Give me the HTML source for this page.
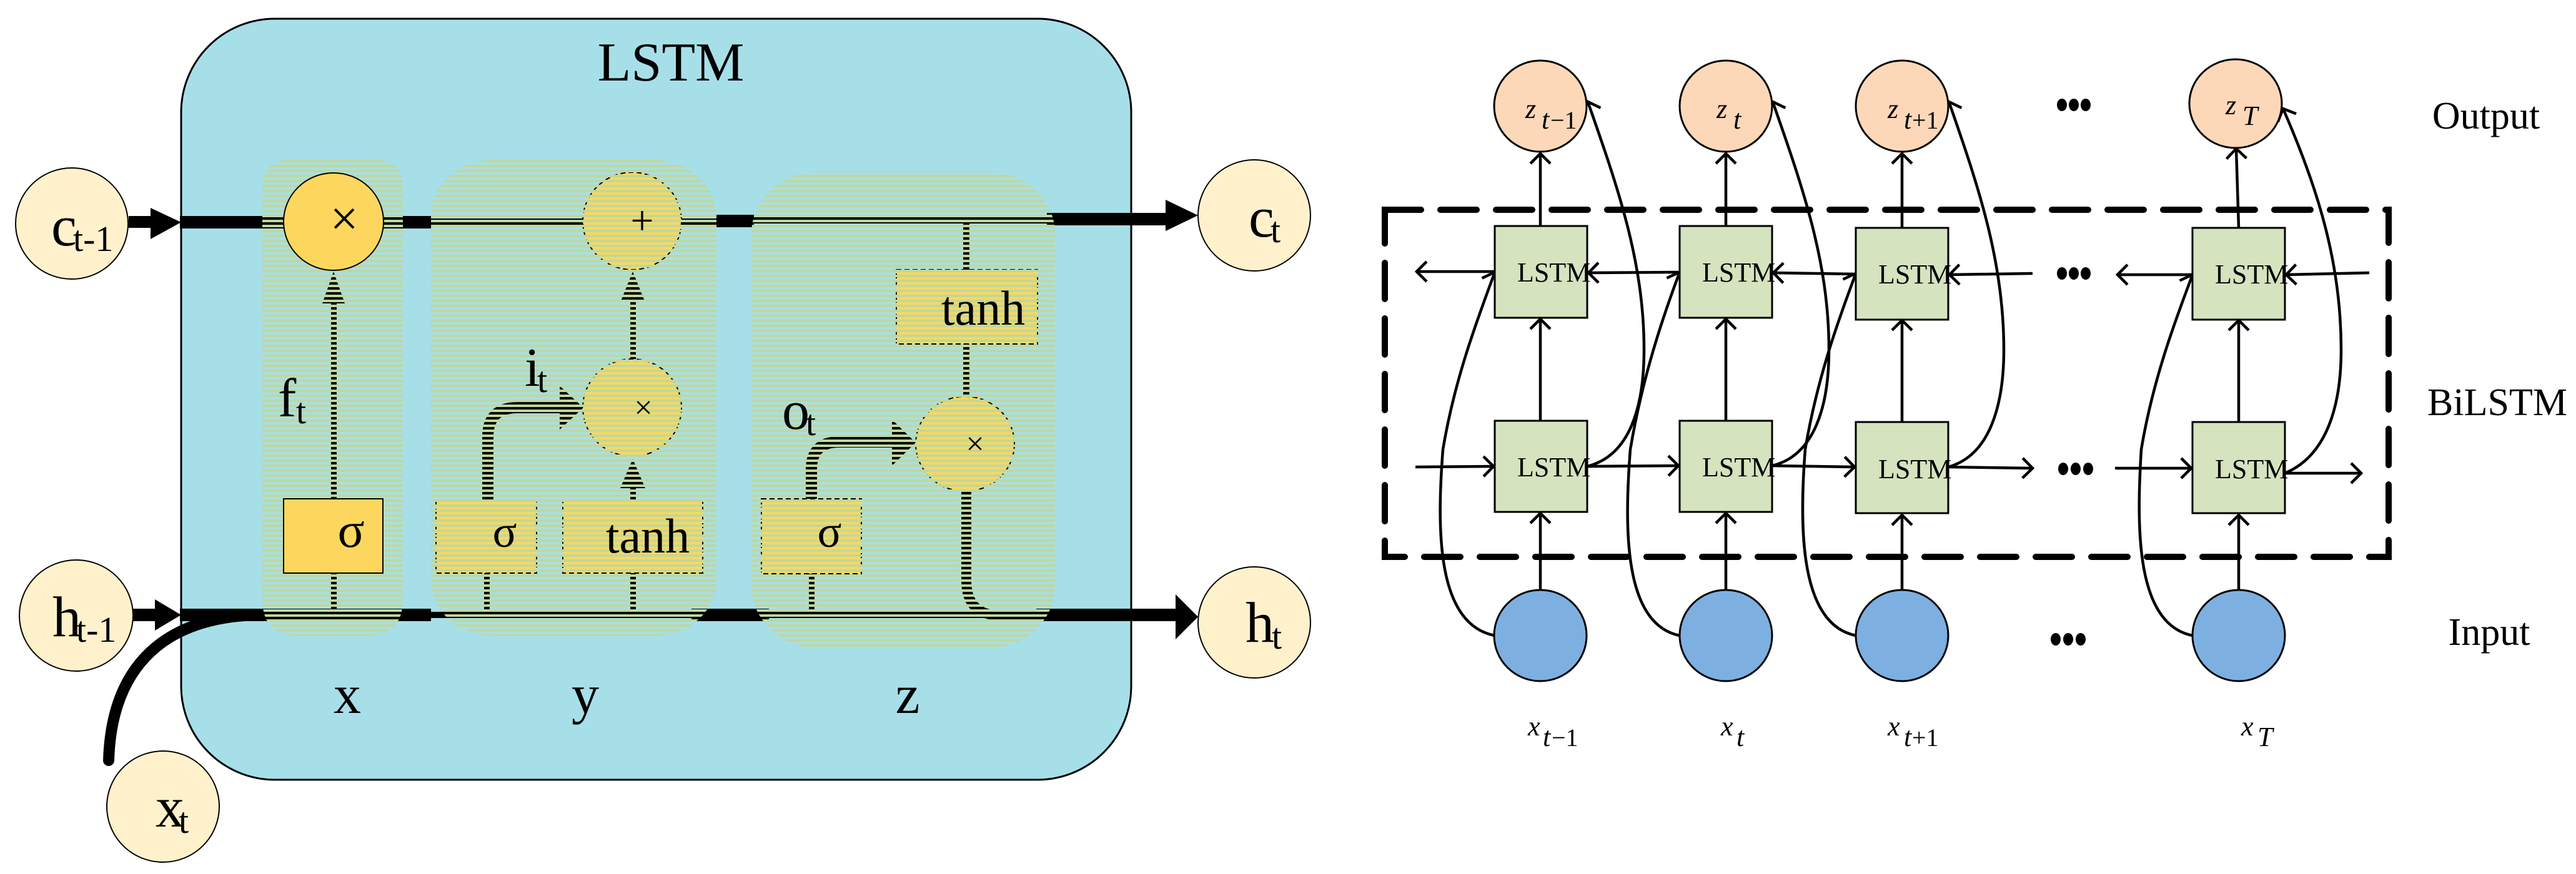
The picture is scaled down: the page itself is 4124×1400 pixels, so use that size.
<!DOCTYPE html>
<html><head><meta charset="utf-8"><style>
html,body{margin:0;padding:0;background:#fff;}
svg{display:block;}
text{font-family:"Liberation Serif",serif;fill:#000;}
</style></head><body>
<svg width="4124" height="1400" viewBox="0 0 4124 1400" xmlns="http://www.w3.org/2000/svg">
<defs>
<pattern id="st" width="20" height="8" patternUnits="userSpaceOnUse"><rect width="20" height="4" fill="#c0d89c"/></pattern>
<marker id="ah" markerUnits="userSpaceOnUse" markerWidth="40" markerHeight="40" refX="20" refY="20" orient="auto" viewBox="0 0 40 40">
<path d="M4 4 L20 20 L4 36" fill="none" stroke="#000" stroke-width="4.5"/>
</marker>
</defs>
<rect width="4124" height="1400" fill="#fff"/>

<!-- ===== LEFT PANEL ===== -->
<rect x="290" y="30" width="1521" height="1219" rx="150" ry="150" fill="#a7dfe9" stroke="#000" stroke-width="3"/>
<text x="1074" y="129" font-size="88" text-anchor="middle">LSTM</text>

<!-- top line -->
<rect x="206" y="346" width="40" height="19" fill="#000"/>
<polygon points="241,333 290,356 241,383" fill="#000"/>
<rect x="288" y="346" width="402" height="20" fill="#000"/>
<rect x="690" y="350" width="457" height="10" fill="#000"/>
<rect x="1147" y="344" width="60" height="20" fill="#000"/>
<rect x="1203" y="348" width="473" height="10" fill="#000"/>
<rect x="1676" y="341" width="195" height="20" fill="#000"/>
<polygon points="1866,320 1918,345 1866,370" fill="#000"/>

<!-- bottom line -->
<rect x="213" y="975" width="37" height="20" fill="#000"/>
<polygon points="248,960 290,985 248,1010" fill="#000"/>
<rect x="288" y="975" width="402" height="20" fill="#000"/>
<rect x="690" y="980" width="420" height="10" fill="#000"/>
<rect x="1107" y="975" width="124" height="20" fill="#000"/>
<rect x="1231" y="980" width="430" height="10" fill="#000"/>
<rect x="1659" y="975" width="225" height="20" fill="#000"/>
<polygon points="1882,952 1918,988 1882,1024" fill="#000"/>
<path d="M174 1218 C178 1080 250 990 410 985" fill="none" stroke="#000" stroke-width="18" stroke-linecap="round"/>

<!-- x column lines -->
<rect x="530" y="918" width="9" height="60" fill="#000"/>
<rect x="530" y="480" width="9" height="320" fill="#000"/>
<polygon points="516,486 552,486 534,435" fill="#000"/>

<!-- y column -->
<rect x="775" y="918" width="9" height="60" fill="#000"/>
<rect x="1009" y="918" width="9" height="60" fill="#000"/>
<rect x="1009" y="776" width="9" height="24" fill="#000"/>
<polygon points="993,782 1033,782 1013,735" fill="#000"/>
<rect x="1009" y="476" width="9" height="102" fill="#000"/>
<polygon points="994,482 1032,482 1013,435" fill="#000"/>
<path d="M781 802 L781 700 Q781 653 828 653 L902 653" fill="none" stroke="#000" stroke-width="18"/>
<polygon points="896,618 934,653 896,688" fill="#000"/>
<ellipse cx="1012" cy="354" rx="79" ry="78" fill="#fdd75d" stroke="#000" stroke-width="2" stroke-dasharray="8,5"/>
<ellipse cx="1012" cy="653" rx="79" ry="78" fill="#fdd75d" stroke="#000" stroke-width="2" stroke-dasharray="8,5"/>
<rect x="698" y="802" width="161" height="116" fill="#fdd75d" stroke="#000" stroke-width="2" stroke-dasharray="8,5"/>
<rect x="901" y="802" width="224" height="116" fill="#fdd75d" stroke="#000" stroke-width="2" stroke-dasharray="8,5"/>

<!-- z column -->
<rect x="1295" y="918" width="9" height="70" fill="#000"/>
<path d="M1299 800 L1299 752 Q1299 708 1343 708 L1432 708" fill="none" stroke="#000" stroke-width="18"/>
<polygon points="1428,672 1466,709 1428,746" fill="#000"/>
<rect x="1542" y="352" width="10" height="82" fill="#000"/>
<rect x="1542" y="549" width="10" height="90" fill="#000"/>
<path d="M1547 785 L1547 930 Q1547 986 1603 986 L1680 986" fill="none" stroke="#000" stroke-width="16"/>
<ellipse cx="1545" cy="711" rx="79" ry="76" fill="#fdd75d" stroke="#000" stroke-width="2" stroke-dasharray="8,5"/>
<rect x="1219" y="799" width="160" height="120" fill="#fdd75d" stroke="#000" stroke-width="2" stroke-dasharray="8,5"/>
<rect x="1435" y="432" width="226" height="119" fill="#fdd75d" stroke="#000" stroke-width="2" stroke-dasharray="8,5"/>

<!-- stripe overlays -->
<path d="M420 300 Q420 256 464 256 L601 256 Q645 256 645 300 L645 960 Q645 1019 585 1019 L480 1019 Q420 1019 420 960 Z" fill="url(#st)"/>
<rect x="690" y="256" width="457" height="763" rx="100" ry="90" fill="url(#st)"/>
<rect x="1203" y="274" width="486" height="765" rx="110" ry="100" fill="url(#st)"/>

<!-- x column solid shapes -->
<ellipse cx="534" cy="355" rx="80" ry="78" fill="#fdd75d" stroke="#000" stroke-width="2"/>
<rect x="454" y="799" width="159" height="119" fill="#fdd75d" stroke="#000" stroke-width="2"/>

<!-- gate symbols -->
<text x="551" y="377" font-size="80" text-anchor="middle" font-family="Liberation Sans, sans-serif">×</text>
<text x="1028" y="375" font-size="66" text-anchor="middle">+</text>
<text x="1030" y="670" font-size="52" text-anchor="middle">×</text>
<text x="1561" y="728" font-size="52" text-anchor="middle">×</text>
<text x="562" y="876" font-size="80" text-anchor="middle">σ</text>
<text x="808" y="876" font-size="72" text-anchor="middle">σ</text>
<text x="1328" y="876" font-size="72" text-anchor="middle">σ</text>
<text x="1037" y="885" font-size="78" text-anchor="middle">tanh</text>
<text x="1574" y="520" font-size="78" text-anchor="middle">tanh</text>

<!-- labels -->
<text x="445" y="667" font-size="88">f</text><text x="474" y="678" font-size="58">t</text>
<text x="840" y="618" font-size="88">i</text><text x="860" y="628" font-size="58">t</text>
<text x="1252" y="687" font-size="88">o</text><text x="1290" y="697" font-size="58">t</text>
<text x="556" y="1142" font-size="88" text-anchor="middle">x</text>
<text x="937" y="1142" font-size="88" text-anchor="middle">y</text>
<text x="1453" y="1142" font-size="88" text-anchor="middle">z</text>

<!-- state ellipses -->
<ellipse cx="115" cy="358" rx="90" ry="89" fill="#fef1cc" stroke="#000" stroke-width="2"/>
<text x="82" y="393" font-size="92">c</text><text x="117" y="402" font-size="58">t-1</text>
<ellipse cx="122" cy="986" rx="91" ry="89" fill="#fef1cc" stroke="#000" stroke-width="2"/>
<text x="84" y="1019" font-size="92">h</text><text x="122" y="1028" font-size="58">t-1</text>
<ellipse cx="261" cy="1292" rx="90" ry="89" fill="#fef1cc" stroke="#000" stroke-width="2"/>
<text x="249" y="1324" font-size="92">x</text><text x="286" y="1334" font-size="58">t</text>
<ellipse cx="2008" cy="345" rx="90" ry="89" fill="#fef1cc" stroke="#000" stroke-width="2"/>
<text x="1999" y="379" font-size="92">c</text><text x="2034" y="388" font-size="58">t</text>
<ellipse cx="2008" cy="997" rx="90" ry="89" fill="#fef1cc" stroke="#000" stroke-width="2"/>
<text x="1994" y="1028" font-size="92">h</text><text x="2036" y="1039" font-size="58">t</text>

<!-- ===== RIGHT PANEL ===== -->
<rect x="2217" y="336" width="1607" height="556" fill="none" stroke="#000" stroke-width="10" stroke-dasharray="58,31" stroke-linecap="round"/>

<g stroke="#000" stroke-width="4.5" fill="none">
<line x1="2466" y1="362" x2="2466" y2="246" marker-end="url(#ah)"/>
<line x1="2763" y1="362" x2="2763" y2="246" marker-end="url(#ah)"/>
<line x1="3045" y1="365" x2="3045" y2="246" marker-end="url(#ah)"/>
<line x1="3584" y1="365" x2="3580" y2="238" marker-end="url(#ah)"/>
<line x1="2466" y1="674" x2="2466" y2="511" marker-end="url(#ah)"/>
<line x1="2763" y1="674" x2="2763" y2="511" marker-end="url(#ah)"/>
<line x1="3045" y1="676" x2="3045" y2="513" marker-end="url(#ah)"/>
<line x1="3584" y1="676" x2="3584" y2="513" marker-end="url(#ah)"/>
<line x1="2466" y1="945" x2="2466" y2="822" marker-end="url(#ah)"/>
<line x1="2763" y1="945" x2="2763" y2="822" marker-end="url(#ah)"/>
<line x1="3045" y1="945" x2="3045" y2="825" marker-end="url(#ah)"/>
<line x1="3584" y1="945" x2="3584" y2="825" marker-end="url(#ah)"/>
<line x1="2393" y1="435" x2="2268" y2="435" marker-end="url(#ah)"/>
<line x1="2689" y1="436" x2="2543" y2="437" marker-end="url(#ah)"/>
<line x1="2971" y1="439" x2="2839" y2="437" marker-end="url(#ah)"/>
<line x1="3254" y1="438" x2="3121" y2="440" marker-end="url(#ah)"/>
<line x1="3510" y1="440" x2="3390" y2="440" marker-end="url(#ah)"/>
<line x1="3793" y1="437" x2="3660" y2="440" marker-end="url(#ah)"/>
<line x1="2266" y1="748" x2="2391" y2="747" marker-end="url(#ah)"/>
<line x1="2541" y1="747" x2="2687" y2="746" marker-end="url(#ah)"/>
<line x1="2837" y1="746" x2="2969" y2="748" marker-end="url(#ah)"/>
<line x1="3119" y1="748" x2="3254" y2="750" marker-end="url(#ah)"/>
<line x1="3386" y1="750" x2="3508" y2="750" marker-end="url(#ah)"/>
<line x1="3658" y1="758" x2="3780" y2="758" marker-end="url(#ah)"/>
<path d="M2393 1018 C2300 1000 2300 850 2310 720 C2330 600 2370 500 2393 436" marker-end="url(#ah)"/>
<path d="M2689 1018 C2600 1000 2600 850 2610 720 C2630 600 2665 500 2689 436" marker-end="url(#ah)"/>
<path d="M2971 1018 C2882 1000 2880 850 2890 720 C2910 600 2948 500 2971 438" marker-end="url(#ah)"/>
<path d="M3510 1018 C3420 1000 3420 850 3428 720 C3448 600 3488 500 3510 440" marker-end="url(#ah)"/>
<path d="M2541 747 C2610 730 2632 650 2632 560 C2632 420 2590 300 2542 163" marker-end="url(#ah)"/>
<path d="M2837 746 C2905 730 2928 650 2928 560 C2928 420 2886 300 2838 163" marker-end="url(#ah)"/>
<path d="M3119 748 C3185 730 3208 650 3208 560 C3208 420 3168 300 3120 163" marker-end="url(#ah)"/>
<path d="M3658 758 C3725 730 3748 650 3748 560 C3748 420 3710 300 3655 174" marker-end="url(#ah)"/>
</g>

<g fill="#fdd8b8" stroke="#000" stroke-width="3">
<ellipse cx="2466" cy="170" rx="74" ry="73"/>
<ellipse cx="2763" cy="170" rx="74" ry="73"/>
<ellipse cx="3045" cy="170" rx="74" ry="73"/>
<ellipse cx="3579" cy="166" rx="74" ry="71"/>
</g>
<g fill="#7db0e1" stroke="#000" stroke-width="3">
<ellipse cx="2466" cy="1018" rx="74" ry="73"/>
<ellipse cx="2763" cy="1018" rx="74" ry="73"/>
<ellipse cx="3045" cy="1018" rx="74" ry="73"/>
<ellipse cx="3584" cy="1018" rx="74" ry="73"/>
</g>
<g fill="#d5e3bf" stroke="#000" stroke-width="3">
<rect x="2393" y="362" width="148" height="147"/>
<rect x="2689" y="362" width="148" height="147"/>
<rect x="2971" y="365" width="148" height="147"/>
<rect x="3510" y="365" width="148" height="147"/>
<rect x="2393" y="674" width="148" height="146"/>
<rect x="2689" y="674" width="148" height="146"/>
<rect x="2971" y="676" width="148" height="146"/>
<rect x="3510" y="676" width="148" height="146"/>
</g>
<g font-size="44">
<text x="2429" y="451">LSTM</text><text x="2725" y="451">LSTM</text><text x="3007" y="454">LSTM</text><text x="3546" y="454">LSTM</text>
<text x="2429" y="763">LSTM</text><text x="2725" y="763">LSTM</text><text x="3007" y="766">LSTM</text><text x="3546" y="766">LSTM</text>
</g>
<g font-size="44" font-style="italic">
<text x="2442" y="189">z</text><text x="2468" y="206">t</text><text x="2482" y="206" font-style="normal" font-size="40">−1</text>
<text x="2748" y="189">z</text><text x="2775" y="206">t</text>
<text x="3022" y="189">z</text><text x="3048" y="206">t</text><text x="3061" y="206" font-style="normal" font-size="40">+1</text>
<text x="3563" y="183">z</text><text x="3590" y="200">T</text>
</g>
<g font-size="44" font-style="italic">
<text x="2446" y="1178">x</text><text x="2470" y="1195">t</text><text x="2484" y="1195" font-style="normal" font-size="40">−1</text>
<text x="2755" y="1178">x</text><text x="2780" y="1195">t</text>
<text x="3022" y="1178">x</text><text x="3048" y="1195">t</text><text x="3061" y="1195" font-style="normal" font-size="40">+1</text>
<text x="3588" y="1178">x</text><text x="3614" y="1195">T</text>
</g>
<g fill="#000">
<ellipse cx="3301" cy="168" rx="8" ry="10"/><ellipse cx="3320" cy="168" rx="8" ry="10"/><ellipse cx="3339" cy="168" rx="8" ry="10"/>
<ellipse cx="3301" cy="438" rx="8" ry="10"/><ellipse cx="3320" cy="438" rx="8" ry="10"/><ellipse cx="3339" cy="438" rx="8" ry="10"/>
<ellipse cx="3303" cy="751" rx="8" ry="10"/><ellipse cx="3323" cy="751" rx="8" ry="10"/><ellipse cx="3343" cy="751" rx="8" ry="10"/>
<ellipse cx="3291" cy="1024" rx="8" ry="10"/><ellipse cx="3311" cy="1024" rx="8" ry="10"/><ellipse cx="3331" cy="1024" rx="8" ry="10"/>
</g>
<text x="3980" y="206" font-size="62" text-anchor="middle">Output</text>
<text x="3998" y="665" font-size="62" text-anchor="middle">BiLSTM</text>
<text x="3985" y="1033" font-size="62" text-anchor="middle">Input</text>
</svg>
</body></html>
